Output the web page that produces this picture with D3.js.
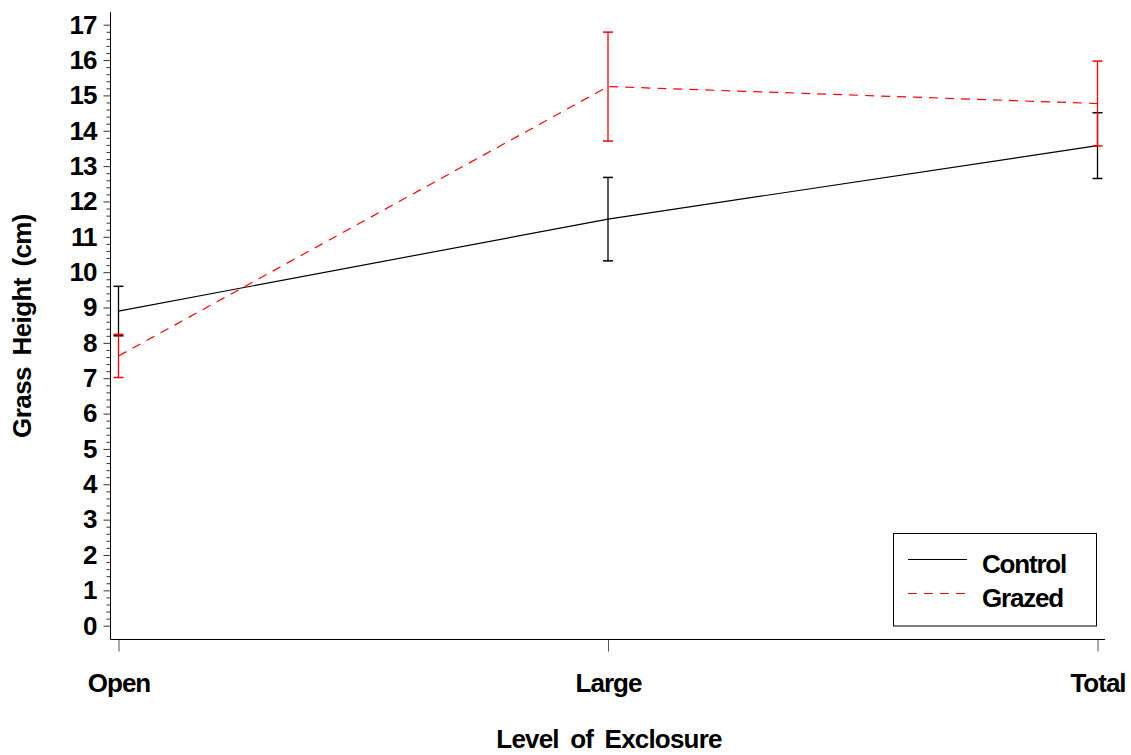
<!DOCTYPE html>
<html>
<head>
<meta charset="utf-8">
<script src="https://cdn.jsdelivr.net/npm/d3@7"></script>
<style>
  html, body { margin: 0; padding: 0; background: #fff; }
  svg { display: block; }
  text { font-family: "Liberation Sans", Arial, sans-serif; font-weight: bold; fill: #000; }
</style>
</head>
<body>
<script>
// data
const categories = ["Open", "Large", "Total"];
const controlMean = [8.9, 11.5, 13.58];
const controlErr = [0.7, 1.18, 0.93];
const grazedMean = [7.63, 15.25, 14.77];
const grazedErr = [0.61, 1.54, 1.2];
const yTicks = d3.range(0, 18);

const width = 1131, height = 755;
const fontSize = 26;

const svg = d3.select("body").append("svg")
    .attr("width", width)
    .attr("height", height);

// scales
const x = d3.scalePoint().domain(categories).range([118.5, 1097.5]);
const y = d3.scaleLinear().domain([0, 17]).range([625.7, 24.7]);

const axisX0 = 110.5, axisY0 = 639.5;

// y axis: minor ticks
const minor = d3.range(0, 17.001, 0.2).filter(v => Math.abs(v - Math.round(v)) > 0.01);
svg.append("g")
    .attr("transform", `translate(${axisX0},0)`)
    .call(d3.axisLeft(y).tickValues(minor).tickSize(4).tickFormat(""))
    .call(g => g.select(".domain").remove())
    .call(g => g.selectAll("line").attr("stroke", "#333"));

// y axis: major ticks + labels
svg.append("g")
    .attr("transform", `translate(${axisX0},0)`)
    .call(d3.axisLeft(y).tickValues(yTicks).tickSize(7).tickPadding(7))
    .call(g => g.select(".domain").remove())
    .call(g => g.selectAll("line").attr("stroke", "#333"))
    .call(g => g.selectAll("text")
        .attr("font-size", fontSize)
        .attr("letter-spacing", "-1px")
        .attr("font-family", null));

// x axis
svg.append("g")
    .attr("transform", `translate(0,${axisY0})`)
    .call(d3.axisBottom(x).tickSize(12).tickPadding(22))
    .call(g => g.select(".domain").remove())
    .call(g => g.selectAll("line").attr("stroke", "#555"))
    .call(g => g.selectAll("text")
        .attr("font-size", fontSize)
        .attr("letter-spacing", "-1px")
        .attr("font-family", null));

// axis lines
svg.append("line")
    .attr("x1", axisX0).attr("x2", axisX0)
    .attr("y1", 12).attr("y2", axisY0)
    .attr("stroke", "#000");
svg.append("line")
    .attr("x1", axisX0).attr("x2", 1105)
    .attr("y1", axisY0).attr("y2", axisY0)
    .attr("stroke", "#000");

// axis titles
svg.append("text")
    .attr("x", 609).attr("y", 748)
    .attr("text-anchor", "middle")
    .attr("font-size", fontSize)
    .attr("word-spacing", "5px")
    .attr("letter-spacing", "-0.8px")
    .text("Level of Exclosure");

svg.append("text")
    .attr("transform", "translate(31,326) rotate(-90)")
    .attr("text-anchor", "middle")
    .attr("font-size", fontSize)
    .attr("word-spacing", "5px")
    .attr("letter-spacing", "-0.6px")
    .text("Grass Height (cm)");

// series
const series = [
  { name: "Control", mean: controlMean, err: controlErr, color: "#000", dash: null },
  { name: "Grazed", mean: grazedMean, err: grazedErr, color: "#ff0000", dash: "9,7" }
];

const line = d3.line()
    .x((d, i) => x(categories[i]))
    .y(d => y(d));

series.forEach(s => {
  const g = svg.append("g");
  g.append("path")
      .datum(s.mean)
      .attr("d", line)
      .attr("fill", "none")
      .attr("stroke", s.color)
      .attr("stroke-width", 1.2)
      .attr("stroke-dasharray", s.dash);

  const bars = g.selectAll(".err")
      .data(s.mean.map((m, i) => ({ c: categories[i], lo: m - s.err[i], hi: m + s.err[i] })))
      .join("g")
      .attr("class", "err");
  bars.append("line")
      .attr("x1", d => x(d.c)).attr("x2", d => x(d.c))
      .attr("y1", d => y(d.lo)).attr("y2", d => y(d.hi))
      .attr("stroke", s.color).attr("stroke-width", 1.3);
  ["lo", "hi"].forEach(k => {
    bars.append("line")
        .attr("x1", d => x(d.c) - 5).attr("x2", d => x(d.c) + 5)
        .attr("y1", d => y(d[k])).attr("y2", d => y(d[k]))
        .attr("stroke", s.color).attr("stroke-width", 1.5);
  });
});

// legend
const legend = svg.append("g");
legend.append("rect")
    .attr("x", 893.5).attr("y", 533.5)
    .attr("width", 203).attr("height", 92.5)
    .attr("fill", "#fff").attr("stroke", "#000");
series.forEach((s, i) => {
  const ly = 559.5 + i * 34;
  legend.append("line")
      .attr("x1", 908).attr("x2", 967)
      .attr("y1", ly).attr("y2", ly)
      .attr("stroke", s.color)
      .attr("stroke-width", 1.2)
      .attr("stroke-dasharray", s.dash);
  legend.append("text")
      .attr("x", 982).attr("y", ly + 13.5)
      .attr("font-size", fontSize)
      .attr("letter-spacing", "-1.2px")
      .text(s.name);
});
</script>
</body>
</html>
